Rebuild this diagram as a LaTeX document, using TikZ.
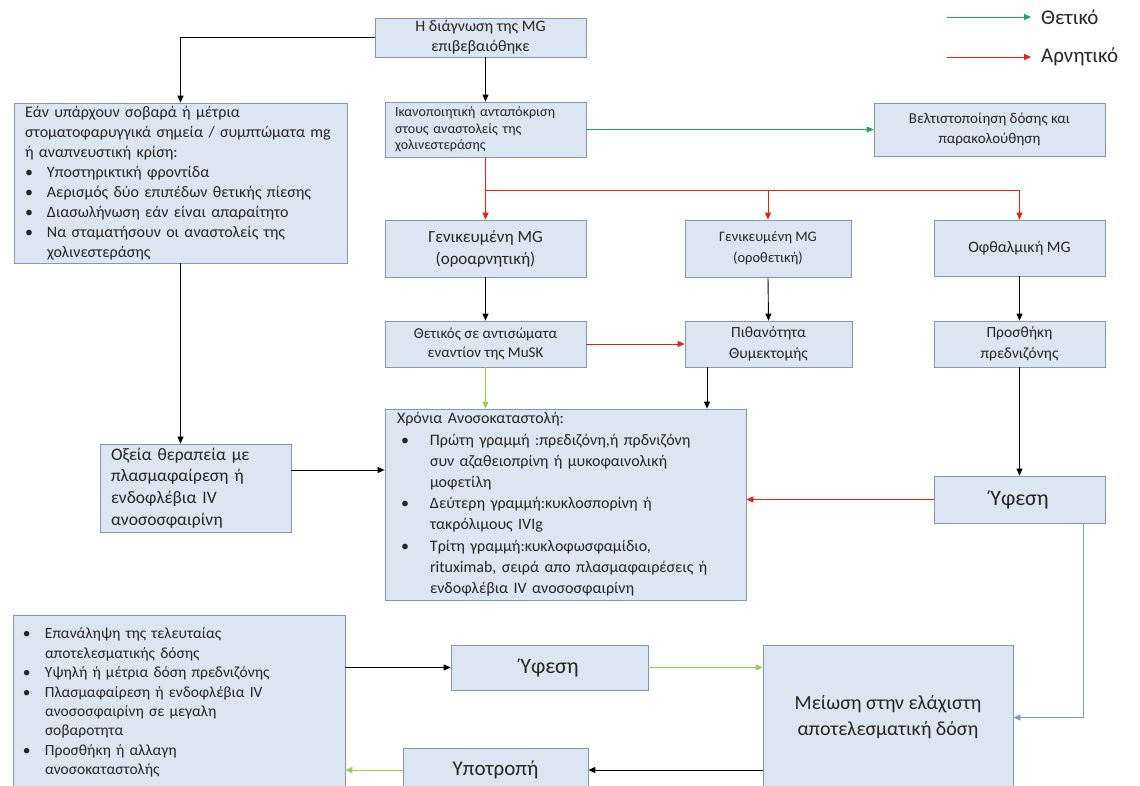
\documentclass[tikz,border=0pt]{standalone}
\usepackage{fontspec}
\setmainfont{Carlito}
\usetikzlibrary{arrows.meta}
\definecolor{boxfill}{HTML}{DCE6F2}
\definecolor{boxline}{HTML}{8497B0}
\definecolor{negred}{HTML}{E3201B}
\definecolor{posgreen}{HTML}{1DA55C}
\definecolor{litegreen}{HTML}{92D050}
\definecolor{tealline}{HTML}{6FA98C}
\definecolor{blueline}{HTML}{7F9DC4}
\newcommand{\fsz}[2]{\fontsize{#1}{#2}\selectfont}
\newcommand{\itembul}[2][0pt]{\hspace*{#1}\makebox[#2][l]{\textbullet}}
\newcommand{\itemgap}[1]{\hspace*{#1}}

\begin{document}
\begin{tikzpicture}[x=1pt, y=-1pt,
        box/.style={draw=boxline, fill=boxfill, line width=0.8pt, inner sep=0pt, text=black!85},
        arr/.style={-{Triangle[length=7pt, width=6pt]}, line width=0.9pt}]
        \fill [white] (0, 0) rectangle (1140, 785);
        \useasboundingbox (0, 0) rectangle (1140, 785);

        \node [box, minimum width=211pt, minimum height=39pt, align=center, font=\fsz{16}{20}] (diag) at (480.5, 37.5) {Η διάγνωση της MG\\επιβεβαιόθηκε};
        \node [box, minimum width=201pt, minimum height=55pt, text width=181pt, align=left, font=\fsz{14}{16.7}] (ikanop) at (485.5, 129.5) {Ικανοποιητική ανταπόκριση\\στους αναστολείς της\\χολινεστεράσης};
        \node [box, minimum width=231pt, minimum height=53pt, align=center, font=\fsz{15}{20}] (beltist) at (989.5, 129.5) {Βελτιστοποίηση δόσης και\\παρακολούθηση};
        \node [box, minimum width=333pt, minimum height=160pt, text width=311pt, align=left, font=\fsz{16}{20}] (severe) at (180.5, 183) {Εάν υπάρχουν σοβαρά ή μέτρια\\στοματοφαρυγγικά σημεία / συμπτώματα mg\\ή αναπνευστική κρίση:\\\itembul{22pt}Υποστηρικτική φροντίδα\\\itembul{22pt}Αερισμός δύο επιπέδων θετικής πίεσης\\\itembul{22pt}Διασωλήνωση εάν είναι απαραίτητο\\\itembul{22pt}Να σταματήσουν οι αναστολείς της\\\itemgap{22pt}χολινεστεράσης};

        \node [box, minimum width=201pt, minimum height=57pt, align=center, font=\fsz{17}{22}] (gen1) at (485.5, 248.5) {Γενικευμένη MG\\(οροαρνητική)};
        \node [box, minimum width=166pt, minimum height=57pt, align=center, font=\fsz{14.5}{21}] (gen2) at (768, 248.5) {Γενικευμένη MG\\(οροθετική)};
        \node [box, minimum width=171pt, minimum height=56pt, align=center, font=\fsz{16}{20}] (ofth) at (1019.5, 248) {Οφθαλμική MG};

        \node [box, minimum width=201pt, minimum height=46pt, align=center, font=\fsz{15}{19}] (thetikos) at (485.5, 344) {Θετικός σε αντισώματα\\εναντίον της MuSK};
        \node [box, minimum width=167pt, minimum height=46pt, align=center, font=\fsz{15.5}{20.5}] (pithan) at (768.5, 344) {Πιθανότητα\\Θυμεκτομής};
        \node [box, minimum width=171pt, minimum height=46pt, align=center, font=\fsz{15.5}{20.5}] (prosth) at (1019.5, 344) {Προσθήκη\\πρεδνιζόνης};

        \node [box, minimum width=361pt, minimum height=191pt, text width=337pt, align=left, font=\fsz{16}{21.2}] (xronia) at (565.5, 504.5) {Χρόνια Ανοσοκαταστολή:\\\itembul[4pt]{29pt}Πρώτη γραμμή :πρεδιζόνη,ή πρδνιζόνη\\\itemgap{33pt}συν αζαθειοπρίνη ή μυκοφαινολική\\\itemgap{33pt}μοφετίλη\\\itembul[4pt]{29pt}Δεύτερη γραμμή:κυκλοσπορίνη ή\\\itemgap{33pt}τακρόλιμους IVIg\\\itembul[4pt]{29pt}Τρίτη γραμμή:κυκλοφωσφαμίδιο,\\\itemgap{33pt}rituximab, σειρά απο πλασμαφαιρέσεις ή\\\itemgap{33pt}ενδοφλέβια IV ανοσοσφαιρίνη};
        \node [box, minimum width=191pt, minimum height=88pt, text width=169pt, align=left, font=\fsz{17.5}{21.7}] (oxeia) at (195.5, 488) {Οξεία θεραπεία με\\πλασμαφαίρεση ή\\ενδοφλέβια IV\\ανοσοσφαιρίνη};
        \node [box, minimum width=171pt, minimum height=47pt, align=center, font=\fsz{22}{26}] (yfesi1) at (1019.5, 499.5) {Ύφεση};

        \node [box, minimum width=332pt, minimum height=175pt, text width=312pt, align=left, font=\fsz{15.5}{19.4}] (botleft) at (179, 702.5) {\itembul{22pt}Επανάληψη της τελευταίας\\\itemgap{22pt}αποτελεσματικής δόσης\\\itembul{22pt}Υψηλή ή μέτρια δόση πρεδνιζόνης\\\itembul{22pt}Πλασμαφαίρεση ή ενδοφλέβια IV\\\itemgap{22pt}ανοσοσφαιρίνη σε μεγαλη\\\itemgap{22pt}σοβαροτητα\\\itembul{22pt}Προσθήκη ή αλλαγη\\\itemgap{22pt}ανοσοκαταστολής};
        \node [box, minimum width=197pt, minimum height=45pt, align=center, font=\fsz{22}{26}] (yfesi2) at (549.5, 667.5) {Ύφεση};
        \node [box, minimum width=250pt, minimum height=145pt, align=center, font=\fsz{20}{26}] (meiosi) at (888, 717.5) {Μείωση στην ελάχιστη\\αποτελεσματική δόση};
        \node [box, minimum width=185pt, minimum height=44pt, align=center, font=\fsz{21}{25}] (ypotropi) at (495.5, 770) {Υποτροπή};

        \node [anchor=west, inner sep=0pt, font=\fsz{21}{25}, text=black!85] (legpos) at (1041, 17) {Θετικό};
        \node [anchor=west, inner sep=0pt, font=\fsz{21}{25}, text=black!85] (legneg) at (1041, 57) {Αρνητικό};
        \coordinate (legposstart) at (947, 17);
        \coordinate (legnegstart) at (947, 57);
        \draw [arr, posgreen, shorten >=10pt] (legposstart) -- (legpos.west);
        \draw [arr, negred, shorten >=10pt] (legnegstart) -- (legneg.west);

        \draw [arr] (diag.west) -| (severe.north);
        \draw [arr] (diag.south -| ikanop.north) -- (ikanop.north);
        \draw [arr, posgreen] (ikanop.east) -- (beltist.west);
        \coordinate (split) at (485.5, 190);
        \draw [arr, negred] (ikanop.south) -- (gen1.north);
        \draw [arr, negred] (split) -| (gen2.north);
        \draw [arr, negred] (split) -| (ofth.north);

        \draw [arr] (gen1.south) -- (thetikos.north);
        \draw [arr] (gen2.south) -- (pithan.north);
        \draw [arr] (ofth.south) -- (prosth.north);
        \draw [arr] (prosth.south) -- (yfesi1.north);
        \draw [arr, negred] (thetikos.east) -- (pithan.west);
        \draw [arr, litegreen] (thetikos.south) -- (thetikos.south |- xronia.north);
        \coordinate (pithanfoot) at ([xshift=-61.5pt]pithan.south);
        \draw [arr] (pithanfoot) -- (pithanfoot |- xronia.north);
        \draw [arr] (severe.south) -- (severe.south |- oxeia.north);
        \coordinate (oxeiaout) at ([yshift=18pt]oxeia.east);
        \draw [arr] (oxeiaout) -- (oxeiaout -| xronia.west);
        \draw [arr, negred] (yfesi1.west) -- (yfesi1.west -| xronia.east);

        \coordinate (drop) at ([xshift=-22pt]yfesi1.south east);
        \draw [tealline, line width=0.9pt] (drop) -- (drop |- meiosi.east);
        \draw [arr, blueline] (drop |- meiosi.east) -- (meiosi.east);
        \draw [arr] (yfesi2.west -| botleft.east) -- (yfesi2.west);
        \draw [arr, litegreen] (yfesi2.east) -- (yfesi2.east -| meiosi.west);
        \draw [arr] (ypotropi.east -| meiosi.west) -- (ypotropi.east);
        \draw [arr, litegreen] (ypotropi.west) -- (ypotropi.west -| botleft.east);
    \end{tikzpicture}
\end{document}
